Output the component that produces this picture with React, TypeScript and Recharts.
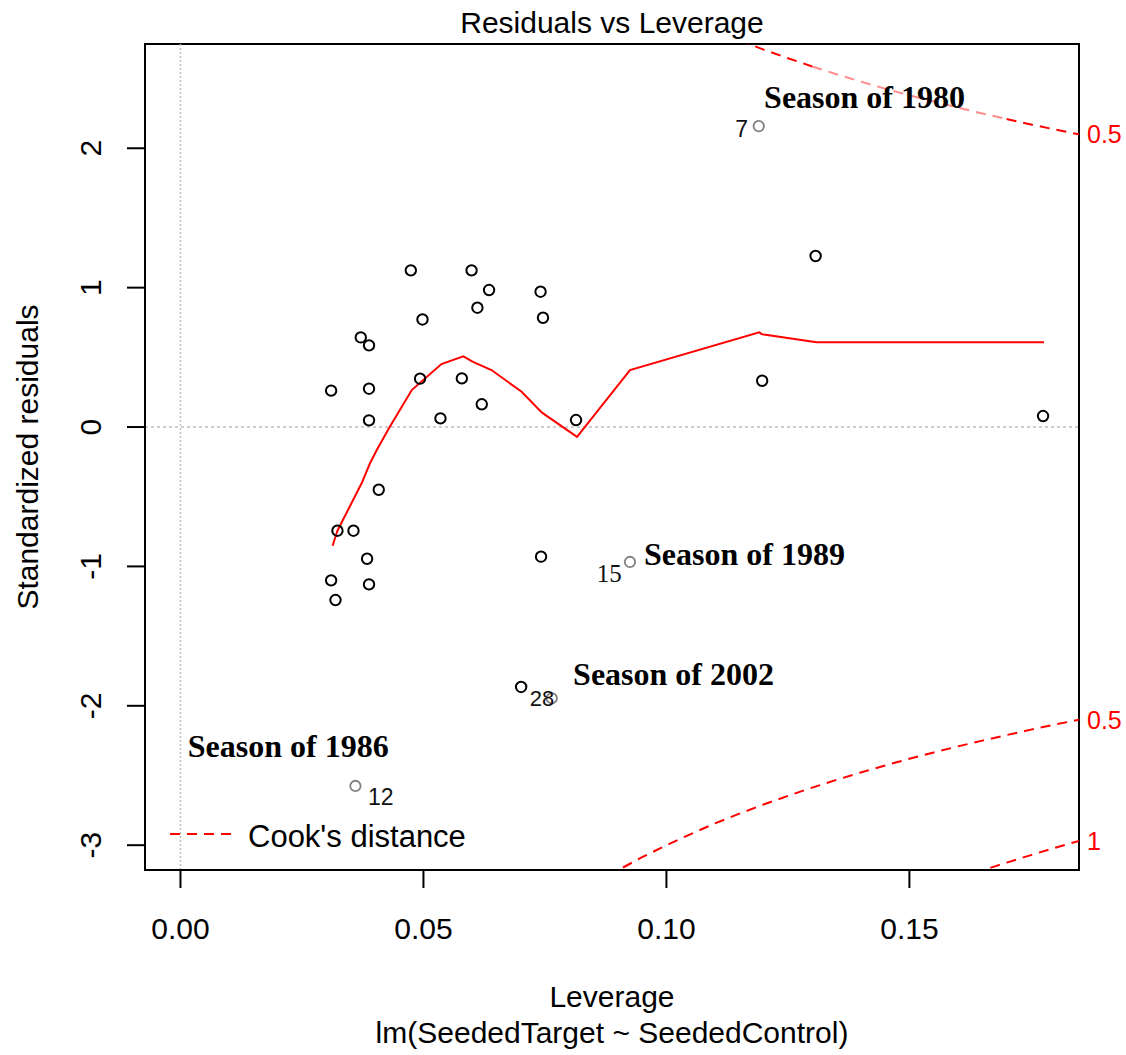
import React from 'react';
import { ComposedChart, Scatter, Line, XAxis, YAxis, ReferenceLine, ReferenceArea } from 'recharts';

const SANS = '"Liberation Sans", Arial, Helvetica, sans-serif';
const SERIF = '"Liberation Serif", "Times New Roman", serif';

const xTicks = [0, 0.05, 0.1, 0.15];
const xTickLabels = ['0.00', '0.05', '0.10', '0.15'];
const yTicks = [-3, -2, -1, 0, 1, 2];

// observations (leverage, standardized residual)
const leverage = [
  0.0474, 0.0599, 0.0635, 0.0741, 0.0611, 0.0498, 0.0746, 0.0371, 0.0388, 0.031,
  0.0388, 0.0493, 0.0579, 0.062, 0.0388, 0.0535, 0.0814, 0.0408, 0.0323, 0.0356,
  0.0384, 0.031, 0.0388, 0.0319, 0.0742, 0.0701, 0.1307, 0.1197, 0.1775,
];
const stdResid = [
  1.124, 1.124, 0.983, 0.971, 0.856, 0.772, 0.784, 0.643, 0.586, 0.261,
  0.275, 0.347, 0.349, 0.163, 0.048, 0.062, 0.05, -0.45, -0.744, -0.744,
  -0.945, -1.1, -1.129, -1.241, -0.93, -1.865, 1.227, 0.332, 0.079,
];

// highlighted seasons
const hiLeverage = [0.119, 0.0925, 0.0764, 0.036];
const hiResid = [2.159, -0.968, -1.946, -2.575];

// smoother
const smoothX = [0.0313, 0.0323, 0.0373, 0.039, 0.0404, 0.0429, 0.0476, 0.0537, 0.0582, 0.0602, 0.064, 0.0702, 0.0744, 0.0816, 0.0925, 0.1191, 0.1197, 0.1309, 0.1777];
const smoothY = [-0.852, -0.744, -0.402, -0.26, -0.165, -0.009, 0.265, 0.452, 0.507, 0.468, 0.409, 0.253, 0.103, -0.07, 0.409, 0.679, 0.665, 0.608, 0.608];

// Cook's distance contours
const cookUpperX = [0.115, 0.12, 0.125, 0.13];
const cookUpperY = [2.774, 2.708, 2.646, 2.587];
const cookUpperMidX = [0.13, 0.135, 0.14, 0.145, 0.15, 0.155, 0.16, 0.165, 0.17];
const cookUpperMidY = [2.587, 2.531, 2.478, 2.428, 2.38, 2.335, 2.291, 2.25, 2.21];
const cookUpperEndX = [0.17, 0.175, 0.18, 0.1849];
const cookUpperEndY = [2.21, 2.171, 2.134, 2.1];
const cookLowerX = [0.088, 0.09, 0.095, 0.1, 0.105, 0.11, 0.115, 0.12, 0.125, 0.13, 0.135, 0.14, 0.145, 0.15, 0.155, 0.16, 0.165, 0.17, 0.175, 0.18, 0.1849];
const cookLowerY = [-3.219, -3.18, -3.086, -3.0, -2.92, -2.844, -2.774, -2.708, -2.646, -2.587, -2.531, -2.478, -2.428, -2.38, -2.335, -2.291, -2.25, -2.21, -2.171, -2.134, -2.1];
const cook1X = [0.16, 0.165, 0.17, 0.175, 0.18, 0.1849];
const cook1Y = [-3.24, -3.181, -3.125, -3.071, -3.018, -2.969];

const cookEnds = [2.1, -2.1, -2.969];
const cookEndLabels = ['0.5', '0.5', '1'];

// annotations
const seasonText = ['Season of 1980', 'Season of 1989', 'Season of 2002', 'Season of 1986'];
const seasonX = [0.1201, 0.0954, 0.0808, 0.0015];
const seasonY = [2.288, -0.99, -1.851, -2.367];

const idText = ['7', '15', '28', '12'];
const idX = [0.1168, 0.0908, 0.0719, 0.0386];
const idY = [2.08, -1.112, -2.001, -2.712];
const idAnchor = ['end', 'end', 'start', 'start'];
const idFont = [SANS, SERIF, SANS, SANS];
const idSize = [23, 25, 22, 23];

const zip = (xs: number[], ys: number[]) => xs.map((x, i) => ({ x, y: ys[i] }));

const points = zip(leverage, stdResid);
const hiPoints = zip(hiLeverage, hiResid);
const smooth = zip(smoothX, smoothY);
const seasons = seasonText.map((t, i) => ({ x: seasonX[i], y: seasonY[i], t }));
const ids = idText.map((t, i) => ({ x: idX[i], y: idY[i], t, a: idAnchor[i], f: idFont[i], s: idSize[i] }));

const XMIN = -0.0073, XMAX = 0.1849, YMIN = -3.178, YMAX = 2.748;

const XTick = (p: any) => {
  const i = xTicks.indexOf(p.payload.value);
  return (
    <text x={p.x} y={p.y + 51} textAnchor="middle" fontSize={30} fontFamily={SANS} fill="#000">
      {xTickLabels[i]}
    </text>
  );
};
const YTick = (p: any) => (
  <text transform={`translate(${p.x - 26},${p.y}) rotate(-90)`} textAnchor="middle" fontSize={30} fontFamily={SANS} fill="#000">
    {String(p.payload.value)}
  </text>
);

const Circle = (color: string, w: number) => (p: any) => (
  <circle cx={p.cx} cy={p.cy} r={5.2} fill="none" stroke={color} strokeWidth={w} />
);

const SeasonLabel = (p: any) => (
  <text x={p.cx} y={p.cy} fontSize={32} fontWeight="bold" fontFamily={SERIF} fill="#000">
    {p.payload.t}
  </text>
);
const IdLabel = (p: any) => (
  <text x={p.cx} y={p.cy} fontSize={p.payload.s} fontFamily={p.payload.f} textAnchor={p.payload.a} fill="#111">
    {p.payload.t}
  </text>
);

const EndLabel = (txt: string) => (p: any) => {
  const vb = p.viewBox || {};
  const x = (vb.x || 0) + (vb.width || 0) + 8;
  const y = (vb.y || 0) + 9;
  return (
    <text x={x} y={y} textAnchor="start" fontSize={25} fontFamily={SANS} fill="#ff0000">
      {txt}
    </text>
  );
};

const dash = '10 7';

export default function App() {
  return (
    <div style={{ position: 'absolute', left: 0, top: 0, width: 1126, height: 1055, background: '#fff' }}>
      <ComposedChart width={1126} height={1055} margin={{ top: 44, right: 47, bottom: 0, left: 0 }}>
        <XAxis
          type="number" dataKey="x" domain={[XMIN, XMAX]} allowDataOverflow ticks={xTicks}
          height={185} tickSize={18} tickMargin={0} tick={XTick}
          axisLine={{ stroke: '#000', strokeWidth: 2 }} tickLine={{ stroke: '#000', strokeWidth: 2 }}
        />
        <YAxis
          type="number" dataKey="y" domain={[YMIN, YMAX]} allowDataOverflow ticks={yTicks}
          width={145} tickSize={18} tickMargin={0} tick={YTick}
          axisLine={{ stroke: '#000', strokeWidth: 2 }} tickLine={{ stroke: '#000', strokeWidth: 2 }}
        />
        <ReferenceArea x1={XMIN} x2={XMAX} y1={YMIN} y2={YMAX} fill="none" fillOpacity={0} stroke="#000" strokeWidth={2} strokeOpacity={1} ifOverflow="visible" />
        <ReferenceLine y={0} stroke="#bebebe" strokeWidth={1.5} strokeDasharray="3 3" />
        <ReferenceLine x={0} stroke="#bebebe" strokeWidth={1.5} strokeDasharray="2 2" />
        {cookEnds.map((v, i) => (
          <ReferenceLine key={i} y={v} stroke="none" strokeOpacity={0} label={EndLabel(cookEndLabels[i])} />
        ))}
        <Line data={zip(cookUpperX, cookUpperY)} dataKey="y" type="linear" stroke="#ff0000" strokeWidth={2} strokeDasharray={dash} dot={false} isAnimationActive={false} />
        <Line data={zip(cookUpperMidX, cookUpperMidY)} dataKey="y" type="linear" stroke="#ff8c8c" strokeWidth={2} strokeDasharray={dash} dot={false} isAnimationActive={false} />
        <Line data={zip(cookUpperEndX, cookUpperEndY)} dataKey="y" type="linear" stroke="#ff0000" strokeWidth={2} strokeDasharray={dash} dot={false} isAnimationActive={false} />
        <Line data={zip(cookLowerX, cookLowerY)} dataKey="y" type="linear" stroke="#ff0000" strokeWidth={2} strokeDasharray={dash} dot={false} isAnimationActive={false} />
        <Line data={zip(cook1X, cook1Y)} dataKey="y" type="linear" stroke="#ff0000" strokeWidth={2} strokeDasharray={dash} dot={false} isAnimationActive={false} />
        <Line data={smooth} dataKey="y" type="linear" stroke="#ff0000" strokeWidth={2} dot={false} isAnimationActive={false} />
        <Scatter data={points} dataKey="y" shape={Circle('#000', 2)} isAnimationActive={false} />
        <Scatter data={hiPoints} dataKey="y" shape={Circle('#808080', 1.8)} isAnimationActive={false} />
        <Scatter data={ids} dataKey="y" shape={IdLabel} isAnimationActive={false} />
        <Scatter data={seasons} dataKey="y" shape={SeasonLabel} isAnimationActive={false} />
      </ComposedChart>
      <svg width={1126} height={1055} style={{ position: 'absolute', left: 0, top: 0, pointerEvents: 'none' }}>
        <text x={612} y={33} textAnchor="middle" fontSize={30} fontFamily={SANS} fill="#000">Residuals vs Leverage</text>
        <text x={612} y={1007} textAnchor="middle" fontSize={30} fontFamily={SANS} fill="#000">Leverage</text>
        <text x={612} y={1043} textAnchor="middle" fontSize={30} fontFamily={SANS} fill="#000">lm(SeededTarget ~ SeededControl)</text>
        <text transform="translate(38,457) rotate(-90)" textAnchor="middle" fontSize={30} fontFamily={SANS} fill="#000">Standardized residuals</text>
        <line x1={170} y1={834} x2={235} y2={834} stroke="#ff0000" strokeWidth={2} strokeDasharray={dash} />
        <text x={248} y={847} fontSize={31} fontFamily={SANS} fill="#000">Cook's distance</text>
      </svg>
    </div>
  );
}
